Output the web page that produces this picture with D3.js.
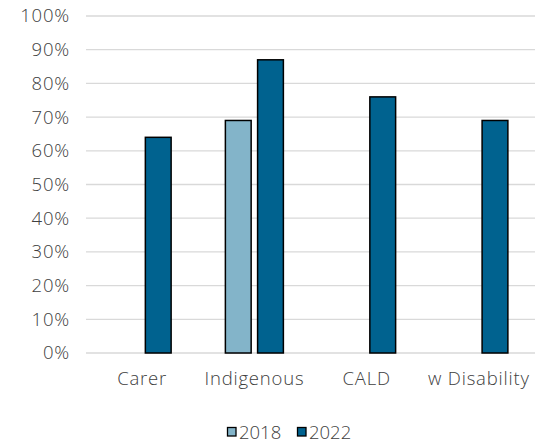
<!DOCTYPE html>
<html>
<head>
<meta charset="utf-8">
<script src="https://cdn.jsdelivr.net/npm/d3@7"></script>
<style>
  body { margin: 0; background: #fff; }
  text { font-family: "Open Sans", "Noto Sans", sans-serif; fill: #404040; font-weight: 300; }
</style>
</head>
<body>
<svg id="chart" width="542" height="445"></svg>
<script>
// Share of respondents by group, survey years 2018 and 2022
const categories = ["Carer", "Indigenous", "CALD", "w Disability"];
const seriesNames = ["2018", "2022"];
const values2018 = [null, 69, null, null];
const values2022 = [64, 87, 76, 69];
const yTicks = [0, 10, 20, 30, 40, 50, 60, 70, 80, 90, 100];
const colors = ["#83b4c9", "#00628f"];

const svg = d3.select("#chart");
const margin = { top: 16, right: 7, bottom: 92, left: 86 };
const width = 542 - margin.left - margin.right;
const height = 445 - margin.top - margin.bottom;
const g = svg.append("g").attr("transform", `translate(${margin.left},${margin.top})`);

const x = d3.scaleBand().domain(categories).range([0, width]).paddingInner(0).paddingOuter(0);
const x1 = d3.scaleBand().domain(seriesNames).range([x.bandwidth() / 2 - 29, x.bandwidth() / 2 + 29]).paddingInner(0.2);
const y = d3.scaleLinear().domain([0, 100]).range([height, 0]);

// gridlines
g.append("g")
  .selectAll("line")
  .data(yTicks)
  .join("line")
  .attr("x1", 0).attr("x2", width)
  .attr("y1", d => y(d)).attr("y2", d => y(d))
  .attr("stroke", "#d9d9d9").attr("stroke-width", 1.3);

// y axis labels
const yAxis = g.append("g")
  .call(d3.axisLeft(y).tickValues(yTicks).tickFormat(d => d + "%").tickSize(0).tickPadding(16));
yAxis.select(".domain").remove();
yAxis.selectAll("text").style("font-size", "18.5px").style("letter-spacing", "0.8px").attr("fill", "#404040");

// bars
const series = [values2018, values2022];
series.forEach((vals, si) => {
  const data = categories.map((c, i) => ({ c, v: vals[i] })).filter(d => d.v != null);
  g.append("g").selectAll("rect")
    .data(data)
    .join("rect")
    .attr("x", d => x(d.c) + x1(seriesNames[si]))
    .attr("y", d => y(d.v))
    .attr("width", x1.bandwidth())
    .attr("height", d => y(0) - y(d.v))
    .attr("fill", colors[si])
    .attr("stroke", "#000")
    .attr("stroke-width", 1.5);
});

// x axis labels
const xAxis = g.append("g")
  .attr("transform", `translate(0,${height})`)
  .call(d3.axisBottom(x).tickSize(0).tickPadding(19));
xAxis.select(".domain").remove();
xAxis.selectAll("text").style("font-size", "18.5px").style("letter-spacing", "0.8px").attr("fill", "#404040");

// legend
const legend = svg.append("g").attr("transform", "translate(227,427)");
const legendX = [0, 70];
seriesNames.forEach((name, i) => {
  const item = legend.append("g").attr("transform", `translate(${legendX[i]},0)`);
  item.append("rect").attr("x", 0.5).attr("y", 0.5).attr("width", 8.5).attr("height", 8.5)
    .attr("fill", colors[i]).attr("stroke", "#000").attr("stroke-width", 1.3);
  item.append("text").attr("x", 12).attr("y", 12.3).style("font-size", "18.5px").text(name);
});
</script>
</body>
</html>
